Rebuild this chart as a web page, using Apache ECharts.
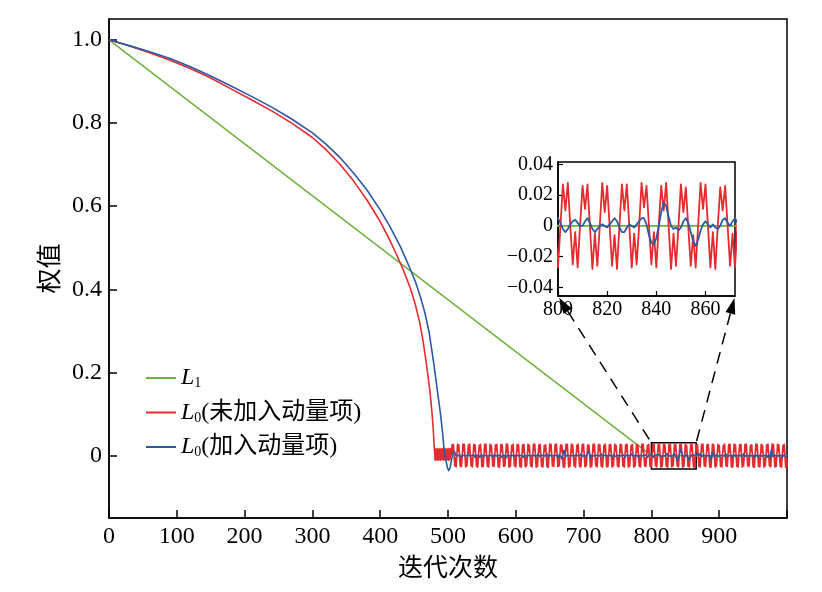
<!DOCTYPE html>
<html>
<head>
<meta charset="utf-8">
<title>权值</title>
<script src="https://cdn.jsdelivr.net/npm/echarts@6.0.0/dist/echarts.min.js"></script>
<style>
    html, body { margin: 0; padding: 0; background: #fff; }
    #chart { width: 822px; height: 592px; }
</style>
</head>
<body>
<div id="chart"></div>
<script>
// L1:直线下降到 800 次后为 0
var greenX = [0, 800, 1000];
var greenY = [1, 0, 0];

// L0(未加入动量项):前段曲线
var redCurveX = [0, 30, 60, 90, 120, 150, 180, 210, 240, 270, 300, 320, 340, 360, 380, 400, 414, 425, 434, 445, 452, 458, 463, 468, 473, 476, 478, 480];
var redCurveY = [1.000, 0.985, 0.969, 0.951, 0.931, 0.908, 0.882, 0.856, 0.829, 0.799, 0.765, 0.736, 0.702, 0.662, 0.616, 0.563, 0.519, 0.480, 0.447, 0.400, 0.362, 0.322, 0.278, 0.222, 0.160, 0.110, 0.070, 0.013];
// 481~504 小幅振荡
var redBlock = [-0.011, 0.016, -0.010, 0.017, -0.011, 0.015, -0.010, 0.017, -0.011, 0.016, -0.009, 0.017,
    -0.011, 0.016, -0.010, 0.017, -0.011, 0.015, -0.010, 0.017, -0.011, 0.016, -0.010, 0.017];
// 505~1000 每次迭代的值
var redOsc = [
    0.002, 0.026, 0.009, 0.027, 0.000, -0.025, -0.005, -0.027, // 505
    0.000, 0.027, 0.011, 0.026, -0.001, -0.026, -0.004, -0.026,
    0.001, 0.028, 0.010, 0.027, 0.000, -0.027, -0.006, -0.025,
    0.000, 0.026, 0.008, 0.028, 0.001, -0.025, -0.005, -0.027,
    -0.001, 0.027, 0.010, 0.026, 0.000, -0.026, -0.003, -0.028,
    0.000, 0.025, 0.011, 0.027, 0.000, -0.027, -0.005, -0.026,
    0.001, 0.027, 0.009, 0.028, -0.001, -0.026, -0.004, -0.027,
    0.000, 0.028, 0.010, 0.025, 0.000, -0.025, -0.006, -0.026,
    0.000, 0.026, 0.012, 0.027, 0.001, -0.027, -0.005, -0.028,
    -0.001, 0.027, 0.010, 0.026, 0.000, -0.026, -0.004, -0.025,
    0.000, 0.028, 0.009, 0.027, 0.000, -0.028, -0.005, -0.026,
    0.001, 0.025, 0.010, 0.028, -0.001, -0.025, -0.003, -0.027,
    0.000, 0.027, 0.011, 0.026, 0.000, -0.026, -0.006, -0.028, // 601
    0.000, 0.026, 0.008, 0.027, 0.001, -0.027, -0.005, -0.025,
    -0.001, 0.028, 0.010, 0.025, 0.000, -0.025, -0.004, -0.027,
    0.000, 0.027, 0.012, 0.028, 0.000, -0.028, -0.005, -0.026,
    0.001, 0.026, 0.009, 0.027, -0.001, -0.026, -0.006, -0.027,
    0.000, 0.025, 0.010, 0.026, 0.000, -0.027, -0.004, -0.028,
    0.000, 0.028, 0.011, 0.027, 0.001, -0.025, -0.005, -0.026,
    -0.001, 0.027, 0.009, 0.028, 0.000, -0.026, -0.003, -0.025,
    0.000, 0.026, 0.010, 0.025, 0.000, -0.028, -0.005, -0.027,
    0.001, 0.027, 0.012, 0.027, -0.001, -0.027, -0.006, -0.026,
    0.000, 0.028, 0.008, 0.026, 0.000, -0.025, -0.004, -0.028,
    0.000, 0.025, 0.010, 0.028, 0.001, -0.026, -0.005, -0.027,
    -0.001, 0.027, 0.011, 0.027, 0.000, -0.027, -0.005, -0.025, // 697
    0.000, 0.026, 0.009, 0.025, 0.000, -0.028, -0.004, -0.026,
    0.001, 0.028, 0.010, 0.027, -0.001, -0.025, -0.006, -0.027,
    0.000, 0.027, 0.012, 0.026, 0.000, -0.026, -0.005, -0.028,
    0.000, 0.025, 0.009, 0.028, 0.001, -0.027, -0.003, -0.026,
    -0.001, 0.026, 0.010, 0.027, 0.000, -0.028, -0.005, -0.025,
    0.000, 0.028, 0.011, 0.025, 0.000, -0.026, -0.004, -0.027,
    0.001, 0.027, 0.008, 0.026, -0.001, -0.025, -0.006, -0.028,
    0.000, 0.026, 0.010, 0.028, 0.000, -0.027, -0.005, -0.026,
    0.000, 0.025, 0.012, 0.027, 0.001, -0.028, -0.004, -0.025,
    -0.001, 0.027, 0.009, 0.026, 0.000, -0.026, -0.005, -0.027,
    0.000, 0.028, 0.010, 0.027, 0.000, -0.025, -0.006, -0.026,
    0.000, 0.025, 0.010, 0.027, 0.000, -0.026, -0.005, -0.027, // 793
    0.000, 0.027, 0.010, 0.028, 0.000, -0.025, -0.004, -0.027,
    0.001, 0.026, 0.011, 0.027, -0.001, -0.028, -0.005, -0.026,
    0.000, 0.028, 0.009, 0.026, 0.000, -0.026, -0.006, -0.028,
    0.000, 0.027, 0.010, 0.027, 0.000, -0.027, -0.005, -0.025,
    0.000, 0.028, 0.012, 0.026, 0.000, -0.025, -0.004, -0.027,
    0.001, 0.026, 0.010, 0.028, 0.000, -0.028, -0.005, -0.026,
    0.000, 0.027, 0.009, 0.025, -0.001, -0.026, -0.006, -0.027,
    0.000, 0.028, 0.011, 0.027, 0.000, -0.027, -0.004, -0.028,
    0.000, 0.025, 0.010, 0.026, 0.000, -0.026, -0.005, -0.027,
    0.001, 0.027, 0.010, 0.028, 0.000, -0.025, -0.005, -0.026, // 873
    0.000, 0.026, 0.012, 0.027, -0.001, -0.027, -0.004, -0.028,
    0.000, 0.028, 0.009, 0.026, 0.000, -0.028, -0.006, -0.025,
    -0.001, 0.027, 0.010, 0.025, 0.000, -0.026, -0.005, -0.027,
    0.000, 0.025, 0.011, 0.028, 0.001, -0.025, -0.003, -0.026,
    0.001, 0.027, 0.008, 0.027, 0.000, -0.027, -0.005, -0.028,
    0.000, 0.028, 0.010, 0.026, -0.001, -0.026, -0.006, -0.027,
    0.000, 0.026, 0.012, 0.027, 0.000, -0.028, -0.004, -0.025,
    -0.001, 0.027, 0.009, 0.028, 0.001, -0.025, -0.005, -0.026,
    0.000, 0.025, 0.010, 0.026, 0.000, -0.027, -0.005, -0.028,
    0.001, 0.028, 0.011, 0.027, 0.000, -0.026, -0.004, -0.027,
    0.000, 0.027, 0.009, 0.025, -0.001, -0.028, -0.006, -0.025,
    0.000, 0.026, 0.010, 0.028, 0.000, -0.025, -0.005, -0.027,
    -0.001, 0.028, 0.012, 0.027, 0.001, -0.027, -0.004, -0.026,
    0.000, 0.027, 0.010, 0.026, 0.000, -0.026, -0.005, -0.028,
    0.001, 0.025, 0.009, 0.027, 0.000, -0.028, -0.006, -0.027  // 993
];

// L0(加入动量项):前段曲线
var blueCurveX = [0, 30, 60, 90, 120, 150, 180, 210, 240, 270, 300, 320, 340, 360, 380, 400, 414, 430, 444, 452, 460, 466, 472, 479, 484, 489, 492, 494, 497, 499, 501, 503, 505, 507, 509];
var blueCurveY = [1.000, 0.986, 0.971, 0.955, 0.935, 0.913, 0.889, 0.864, 0.838, 0.809, 0.776, 0.749, 0.718, 0.681, 0.640, 0.591, 0.552, 0.502, 0.450, 0.418, 0.378, 0.343, 0.298, 0.222, 0.160, 0.100, 0.055, 0.020, -0.012, -0.028, -0.036, -0.030, -0.012, 0.004, 0.010];
// 510~1000 每次迭代的值
var blueOsc = [
    0.008, 0.004, -0.001, -0.004, -0.003, 0.000, 0.003, 0.004, 0.001, -0.003, // 510
    -0.004, -0.002, 0.001, 0.004, 0.003, 0.000, -0.003, -0.004, -0.001, 0.002,
    0.004, 0.003, -0.001, -0.004, -0.003, 0.000, 0.003, 0.004, 0.002, -0.002,
    -0.004, -0.003, 0.001, 0.003, 0.004, 0.001, -0.003, -0.004, -0.002, 0.002,
    0.004, 0.002, -0.002, -0.004, -0.002, 0.001, 0.004, 0.003, -0.001, -0.004,
    -0.003, 0.000, 0.003, 0.004, 0.001, -0.003, -0.004, -0.001, 0.002, 0.004,
    0.003, -0.001, -0.004, -0.003, 0.000, 0.003, 0.004, 0.001, -0.002, -0.004,
    -0.002, 0.001, 0.004, 0.003, 0.000, -0.003, -0.005, -0.002, 0.002, 0.005,
    0.003, -0.001, -0.004, -0.003, 0.001, 0.004, 0.003, -0.001, -0.004, -0.002,
    0.001, 0.004, 0.003, 0.000, -0.004, -0.004, 0.000, 0.003, 0.004, 0.001, // 600
    -0.003, -0.004, -0.001, 0.002, 0.004, 0.002, -0.002, -0.004, -0.002, 0.001,
    0.004, 0.003, -0.001, -0.004, -0.003, 0.001, 0.004, 0.003, 0.000, -0.003,
    -0.004, -0.001, 0.002, 0.004, 0.002, -0.002, -0.004, -0.002, 0.001, 0.004,
    0.003, 0.000, -0.003, -0.004, -0.001, 0.003, 0.004, 0.002, -0.002, -0.004,
    -0.002, 0.001, 0.004, 0.003, -0.001, -0.004, -0.003, 0.000, 0.003, 0.004,
    0.001, -0.003, -0.004, -0.001, 0.002, 0.004, 0.002, -0.003, -0.008, -0.005,
    0.006, 0.013, 0.008, -0.002, -0.005, -0.003, 0.001, 0.004, 0.003, -0.001,
    -0.004, -0.003, 0.001, 0.004, 0.003, -0.001, -0.004, -0.002, 0.001, 0.004,
    0.003, 0.000, -0.003, -0.004, -0.001, 0.003, 0.004, 0.002, -0.002, -0.004,
    -0.002, 0.001, 0.004, 0.002, -0.002, -0.006, -0.004, 0.010, 0.012, 0.004, // 700
    -0.006, -0.004, 0.001, 0.004, 0.003, -0.001, -0.004, -0.003, 0.001, 0.004,
    0.003, 0.000, -0.003, -0.004, -0.001, 0.002, 0.004, 0.002, -0.002, -0.004,
    -0.002, 0.001, 0.004, 0.003, 0.000, -0.004, -0.003, 0.000, 0.003, 0.004,
    0.001, -0.003, -0.004, -0.001, 0.002, 0.004, 0.002, -0.002, -0.004, -0.002,
    0.001, 0.004, 0.003, -0.001, -0.004, -0.003, 0.000, 0.003, 0.004, 0.002,
    -0.002, -0.004, -0.002, 0.001, 0.004, 0.003, 0.000, -0.003, -0.004, -0.001,
    0.002, 0.004, 0.003, -0.001, -0.004, -0.003, 0.000, 0.003, 0.004, 0.001,
    -0.003, -0.004, -0.002, 0.001, 0.004, 0.003, -0.001, -0.004, -0.003, 0.000,
    0.003, 0.004, 0.002, -0.002, -0.004, -0.002, 0.000, 0.002, 0.004, 0.005,
    0.005, 0.002, -0.002, -0.004, -0.002, 0.001, 0.003, 0.004, 0.002, 0.000, // 800
    0.000, 0.003, 0.005, 0.002, -0.002, -0.004, -0.002, 0.000, 0.001, 0.000,
    -0.001, 0.001, 0.003, 0.005, 0.003, -0.001, -0.004, -0.004, -0.001, 0.001,
    0.000, -0.001, 0.001, 0.003, 0.005, 0.005, 0.001, -0.006, -0.011, -0.012,
    -0.008, 0.000, 0.009, 0.015, 0.013, 0.006, 0.000, -0.002, -0.001, -0.003,
    -0.001, 0.003, 0.005, 0.002, -0.004, -0.010, -0.013, -0.009, -0.003, 0.001,
    0.003, 0.001, -0.001, 0.001, -0.001, -0.002, 0.000, 0.004, 0.005, 0.002,
    0.000, 0.003, 0.005, 0.002, -0.002, -0.004, -0.002, 0.001, 0.004, 0.003,
    -0.001, -0.004, -0.003, 0.000, 0.003, 0.004, 0.001, -0.004, -0.010, -0.004,
    0.008, 0.011, 0.003, -0.003, -0.004, -0.001, 0.002, 0.004, 0.002, -0.002,
    -0.004, -0.002, 0.001, 0.004, 0.003, 0.000, -0.003, -0.004, -0.001, 0.002, // 900
    0.004, 0.003, -0.001, -0.004, -0.003, 0.000, 0.003, 0.004, 0.001, -0.003,
    -0.004, -0.001, 0.002, 0.004, 0.002, -0.002, -0.004, -0.002, 0.001, 0.004,
    0.003, 0.000, -0.003, -0.004, -0.001, 0.003, 0.004, 0.002, -0.002, -0.004,
    -0.002, 0.001, 0.004, 0.003, -0.001, -0.004, -0.003, 0.000, 0.003, 0.004,
    0.001, -0.003, -0.004, -0.001, 0.002, 0.004, 0.002, -0.002, -0.004, -0.002,
    0.001, 0.004, 0.003, -0.001, -0.004, -0.003, 0.000, 0.003, 0.004, 0.001,
    -0.003, -0.004, -0.001, 0.002, 0.003, -0.006, 0.006, 0.014, 0.009, -0.002,
    -0.005, -0.003, 0.001, 0.004, 0.003, -0.001, -0.004, -0.003, 0.000, 0.003,
    0.004, 0.001, -0.003, -0.004, -0.001, 0.002, 0.004, 0.002, -0.002, -0.004,
    -0.002 // 1000
];

// 坐标轴刻度
var mainYTicks = [0, 0.2, 0.4, 0.6, 0.8, 1.0];
var insetYTicks = [-0.04, -0.02, 0, 0.02, 0.04];
var insetXRange = [800, 872];
var insetYRange = [-0.0455, 0.0415];
// 主图上的放大框
var zoomBoxX = [800, 866];
var zoomBoxY = [-0.032, 0.031];

var SERIF = "'Liberation Serif', 'DejaVu Serif', serif";
var CJK = "'Noto Sans CJK SC', sans-serif";
var MIX = "'Liberation Serif', 'Noto Sans CJK SC', serif";
var GREEN = '#6cb33e', RED = '#e62a2e', BLUE = '#2b59a8';

function pairs(xs, ys) {
    return xs.map(function(x, i) { return [x, ys[i]]; });
}
function fromStart(start, vals) {
    return vals.map(function(v, i) { return [start + i, v]; });
}

var greenData = pairs(greenX, greenY);
var redData = pairs(redCurveX, redCurveY).concat(fromStart(481, redBlock), fromStart(505, redOsc));
var blueData = pairs(blueCurveX, blueCurveY).concat(fromStart(510, blueOsc));

var names = ['L1', 'L0(未加入动量项)', 'L0(加入动量项)'];

function lineSeries(name, data, color, idx, width) {
    return {
        name: name,
        type: 'line',
        data: data,
        xAxisIndex: idx,
        yAxisIndex: idx,
        symbol: 'none',
        showSymbol: false,
        animation: false,
        lineStyle: { color: color, width: width, join: 'round' },
        itemStyle: { color: color },
        z: 2
    };
}

var chart = echarts.init(document.getElementById('chart'));

var option = {
    backgroundColor: '#fff',
    animation: false,
    grid: [{
            left: 109, right: 35, top: 19, bottom: 74,
            show: true, borderColor: '#000', borderWidth: 1.5
        },
        {
            left: 558, right: 87, top: 162, bottom: 296,
            show: true, borderColor: '#000', borderWidth: 1.5, backgroundColor: '#fff'
        }
    ],
    legend: {
        data: names,
        orient: 'vertical',
        left: 146,
        top: 366,
        padding: 0,
        itemGap: 10,
        itemWidth: 30,
        itemHeight: 2,
        icon: 'rect',
        formatter: function(name) {
            var s = '{l|L}{s|' + name.charAt(1) + '}';
            if (name.length > 2) s += '{t|' + name.slice(2) + '}';
            return s;
        },
        textStyle: {
            color: '#000',
            rich: {
                l: { fontFamily: SERIF, fontStyle: 'italic', fontSize: 24, lineHeight: 25, color: '#000' },
                s: { fontFamily: SERIF, fontSize: 14, lineHeight: 14, verticalAlign: 'bottom', color: '#000' },
                t: { fontFamily: MIX, fontSize: 24, lineHeight: 25, color: '#000' }
            }
        }
    },
    xAxis: [{
            type: 'value',
            gridIndex: 0,
            min: 0,
            max: 1000,
            interval: 100,
            name: '迭代次数',
            nameLocation: 'middle',
            nameGap: 34,
            nameTextStyle: { fontFamily: CJK, fontSize: 25, color: '#000' },
            axisLine: { onZero: false, lineStyle: { color: '#000', width: 1.5 } },
            axisTick: { inside: true, length: 8, lineStyle: { color: '#000', width: 1.5 } },
            axisLabel: {
                margin: 7,
                fontFamily: SERIF, fontSize: 24, color: '#000',
                formatter: function(v) { return v === 1000 ? '' : String(v); }
            },
            splitLine: { show: false }
        },
        {
            type: 'value',
            gridIndex: 1,
            min: insetXRange[0],
            max: insetXRange[1],
            interval: 20,
            axisLine: { onZero: false, lineStyle: { color: '#000', width: 1.5 } },
            axisTick: { inside: true, length: 5, lineStyle: { color: '#000', width: 1.2 } },
            axisLabel: {
                margin: 4,
                fontFamily: SERIF, fontSize: 20, color: '#000',
                showMaxLabel: false
            },
            splitLine: { show: false }
        }
    ],
    yAxis: [{
            type: 'value',
            gridIndex: 0,
            min: -0.15,
            max: 1.05,
            name: '权值',
            nameLocation: 'middle',
            nameGap: 48,
            nameTextStyle: { fontFamily: CJK, fontSize: 25, color: '#000' },
            axisLine: { onZero: false, lineStyle: { color: '#000', width: 1.5 } },
            axisTick: {
                inside: true, length: 8, customValues: mainYTicks,
                lineStyle: { color: '#000', width: 1.5 }
            },
            axisLabel: {
                margin: 7,
                customValues: mainYTicks,
                fontFamily: SERIF, fontSize: 24, color: '#000',
                formatter: function(v) { return v === 0 ? '0' : v.toFixed(1); }
            },
            splitLine: { show: false }
        },
        {
            type: 'value',
            gridIndex: 1,
            min: insetYRange[0],
            max: insetYRange[1],
            axisLine: { onZero: false, lineStyle: { color: '#000', width: 1.5 } },
            axisTick: {
                inside: true, length: 5, customValues: insetYTicks,
                lineStyle: { color: '#000', width: 1.2 }
            },
            axisLabel: {
                margin: 5,
                customValues: insetYTicks,
                fontFamily: SERIF, fontSize: 20, color: '#000',
                formatter: function(v) {
                    if (v === 0) return '0';
                    return v < 0 ? '\u2212' + Math.abs(v).toFixed(2) : v.toFixed(2);
                }
            },
            splitLine: { show: false }
        }
    ],
    series: [
        lineSeries(names[0], greenData, GREEN, 0, 1.5),
        lineSeries(names[1], redData, RED, 0, 1.6),
        lineSeries(names[2], blueData, BLUE, 0, 1.6),
        {
            // 放大区域的黑框
            name: 'box',
            type: 'line',
            data: [],
            xAxisIndex: 0,
            yAxisIndex: 0,
            z: 5,
            markArea: {
                silent: true,
                itemStyle: { color: 'rgba(0,0,0,0)', borderColor: '#000', borderWidth: 1.5 },
                data: [
                    [{ coord: [zoomBoxX[0], zoomBoxY[1]] }, { coord: [zoomBoxX[1], zoomBoxY[0]] }]
                ]
            }
        },
        lineSeries(names[0], greenData, GREEN, 1, 1.8),
        lineSeries(names[1], redData, RED, 1, 1.8),
        lineSeries(names[2], blueData, BLUE, 1, 1.8)
    ]
};

chart.setOption(option);

// 虚线 + 箭头:从子图下角指向放大框
function pointer(corner, target) {
    var dx = target[0] - corner[0], dy = target[1] - corner[1];
    var len = Math.sqrt(dx * dx + dy * dy);
    var ux = dx / len, uy = dy / len;
    var tip = [corner[0] + ux * 2, corner[1] + uy * 2];
    var base = [tip[0] + ux * 16, tip[1] + uy * 16];
    var px = -uy * 5, py = ux * 5;
    return [{
            type: 'polygon',
            z: 100,
            shape: { points: [tip, [base[0] + px, base[1] + py], [base[0] - px, base[1] - py]] },
            style: { fill: '#000' }
        },
        {
            type: 'line',
            z: 100,
            shape: { x1: base[0], y1: base[1], x2: target[0], y2: target[1] },
            style: { stroke: '#000', lineWidth: 1.5, lineDash: [12, 8] }
        }
    ];
}

var insetBL = chart.convertToPixel({ gridIndex: 1 }, [insetXRange[0], insetYRange[0]]);
var insetBR = chart.convertToPixel({ gridIndex: 1 }, [insetXRange[1], insetYRange[0]]);
var boxTL = chart.convertToPixel({ gridIndex: 0 }, [zoomBoxX[0], zoomBoxY[1]]);
var boxTR = chart.convertToPixel({ gridIndex: 0 }, [zoomBoxX[1], zoomBoxY[1]]);

chart.setOption({
    graphic: pointer(insetBL, boxTL).concat(pointer(insetBR, boxTR))
});
</script>
</body>
</html>
